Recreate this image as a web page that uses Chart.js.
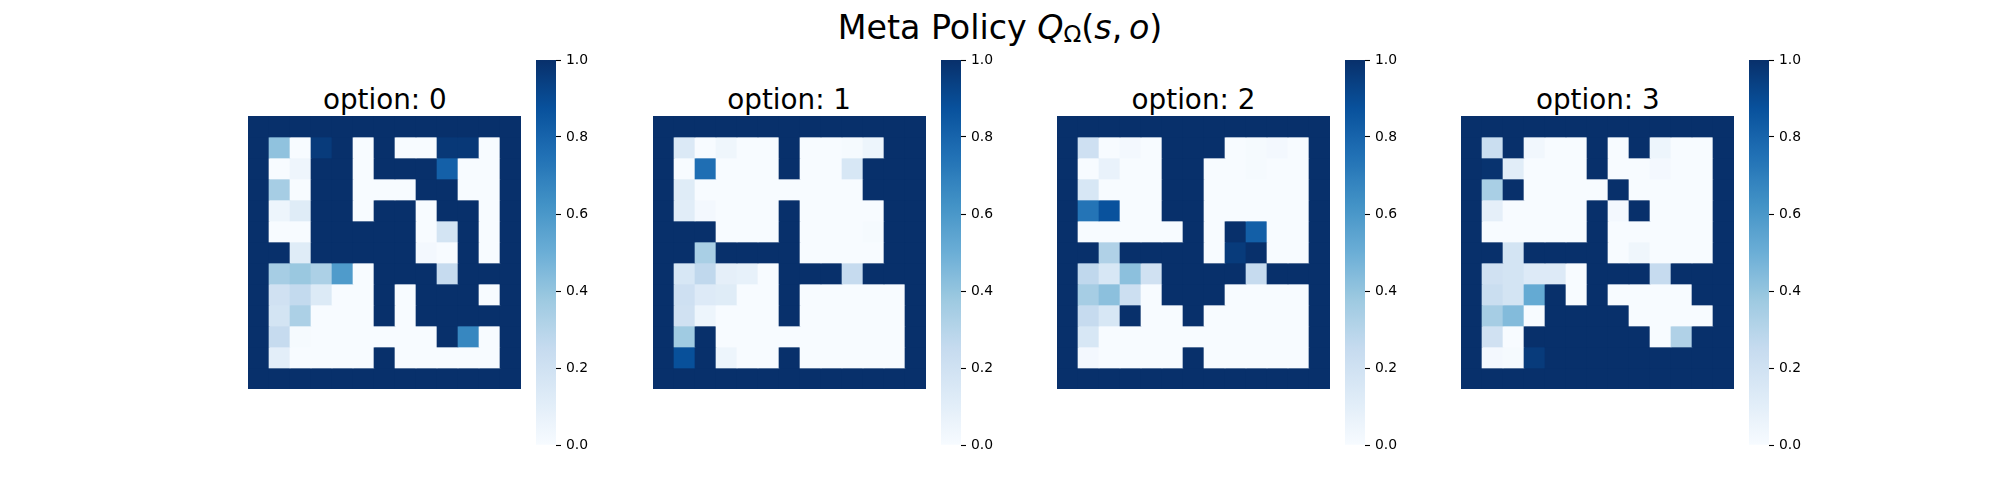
<!DOCTYPE html>
<html>
<head>
<meta charset="utf-8">
<script src="https://cdn.jsdelivr.net/npm/chart.js@4.4.0/dist/chart.umd.min.js"></script>
<style>
  html, body { margin: 0; padding: 0; background: #ffffff; width: 2000px; height: 500px; overflow: hidden; }
  canvas { position: absolute; display: block; }
  .ttl { position: absolute; font-family: "DejaVu Sans"; font-size: 27.8px; line-height: 1; white-space: nowrap; transform: translateX(-50%); color: #000; }
  #sup { position: absolute; left: 1000px; top: 11px; transform: translateX(-50%); font-family: "DejaVu Sans"; font-size: 33.3px; line-height: 1; white-space: nowrap; color: #000; }
  #sup .m { font-style: oblique; }
  #sup .sub { font-size: 70%; position: relative; top: 0.12em; }
</style>
</head>
<body>
<div id="sup">Meta Policy <span class="m">Q</span><span class="sub">Ω</span>(<span class="m">s</span>,&thinsp;<span class="m">o</span>)</div>
<div id="root"></div>
<script>
// ---------------- data ----------------
const colLabels = ['0','1','2','3','4','5','6','7','8','9','10','11','12'];
const optionTitles = ['option: 0', 'option: 1', 'option: 2', 'option: 3'];
const colorbarTicks = [0.0, 0.2, 0.4, 0.6, 0.8, 1.0];

const option0 = [
  [1,1,1,1,1,1,1,1,1,1,1,1,1],
  [1,0.41,0,0.96,1,0,1,0,0,0.97,0.97,0,1],
  [1,0,0.045,1,1,0,1,1,1,0.815,0,0,1],
  [1,0.35,0,1,1,0,0,0,1,1,0,0,1],
  [1,0.05,0.12,1,1,0,1,1,0,1,1,0,1],
  [1,0,0,1,1,1,1,1,0,0.18,1,0,1],
  [1,1,0.12,1,1,1,1,1,0.02,0,1,0,1],
  [1,0.35,0.385,0.33,0.585,0,1,1,1,0.25,1,1,1],
  [1,0.2,0.26,0.135,0,0,1,0,1,1,1,0,1],
  [1,0.18,0.33,0,0,0,1,0,1,1,1,1,1],
  [1,0.25,0.01,0,0,0,0,0,0,1,0.667,0,1],
  [1,0.1,0,0,0,0,1,0,0,0,0,0,1],
  [1,1,1,1,1,1,1,1,1,1,1,1,1]
];
const option1 = [
  [1,1,1,1,1,1,1,1,1,1,1,1,1],
  [1,0.14,0,0.04,0,0,1,0,0,0.01,0.05,1,1],
  [1,0,0.76,0,0,0,1,0,0,0.16,1,1,1],
  [1,0.12,0,0,0,0,0,0,0,0,1,1,1],
  [1,0.11,0.02,0,0,0,1,0,0,0,0,1,1],
  [1,1,1,0,0,0,1,0,0,0,0.01,1,1],
  [1,1,0.34,1,1,1,1,0,0,0,0,1,1],
  [1,0.16,0.27,0.09,0.08,0,1,1,1,0.25,1,1,1],
  [1,0.21,0.13,0.12,0,0,1,0,0,0,0,0,1],
  [1,0.2,0.05,0,0,0,1,0,0,0,0,0,1],
  [1,0.37,1,0,0,0,0,0,0,0,0,0,1],
  [1,0.88,1,0.05,0,0,1,0,0,0,0,0,1],
  [1,1,1,1,1,1,1,1,1,1,1,1,1]
];
const option2 = [
  [1,1,1,1,1,1,1,1,1,1,1,1,1],
  [1,0.21,0,0.02,0,1,1,1,0,0.01,0.02,0,1],
  [1,0,0.07,0,0,1,1,0,0,0.01,0,0,1],
  [1,0.16,0,0,0,1,1,0,0,0,0,0,1],
  [1,0.74,0.87,0,0,1,1,0,0,0,0,0,1],
  [1,0,0,0,0,0,1,0,1,0.82,0,0,1],
  [1,1,0.32,1,1,1,1,0,0.96,1,0,0,1],
  [1,0.27,0.16,0.42,0.2,1,1,1,1,0.25,1,1,1],
  [1,0.35,0.42,0.22,0,1,1,1,0,0,0,0,1],
  [1,0.25,0.16,1,0,0,1,0,0,0,0,0,1],
  [1,0.16,0,0,0,0,0,0,0,0,0,0,1],
  [1,0.02,0,0,0,0,1,0,0,0,0,0,1],
  [1,1,1,1,1,1,1,1,1,1,1,1,1]
];
const option3 = [
  [1,1,1,1,1,1,1,1,1,1,1,1,1],
  [1,0.23,1,0.03,0,0,1,0,1,0.05,0,0,1],
  [1,0.99,0.11,0,0,0,1,0,0,0.02,0,0,1],
  [1,0.34,1,0,0,0,0,1,0,0,0,0,1],
  [1,0.09,0,0,0,0,1,0.02,1,0,0,0,1],
  [1,0,0,0,0,0,1,0,0,0,0,0,1],
  [1,1,0.18,1,1,1,1,0,0.04,0,0,0,1],
  [1,0.2,0.18,0.13,0.13,0,1,1,1,0.25,1,1,1],
  [1,0.23,0.18,0.52,1,0,1,0,0,0,0,1,1],
  [1,0.35,0.44,0,1,1,1,1,0,0,0,0,1],
  [1,0.2,0,1,1,1,1,1,1,0,0.32,1,1],
  [1,0.02,0.01,0.96,1,1,1,1,1,1,1,1,1],
  [1,1,1,1,1,1,1,1,1,1,1,1,1]
];
const options = [option0, option1, option2, option3];

// ---------------- style ----------------
const BLUES = [
  [247,251,255],[222,235,247],[198,219,239],[158,202,225],[107,174,214],
  [66,146,198],[33,113,181],[8,81,156],[8,48,107]
];
function blues(v) {
  v = Math.max(0, Math.min(1, v));
  const t = v * (BLUES.length - 1);
  const i = Math.min(Math.floor(t), BLUES.length - 2);
  const f = t - i;
  const a = BLUES[i], b = BLUES[i + 1];
  const c = a.map((x, k) => Math.round(x + (b[k] - x) * f));
  return `rgb(${c[0]},${c[1]},${c[2]})`;
}

const CELL = 21;
const GRID = CELL * 13;
const STEP = 404.35;
const gridCenterX0 = 384.8;
const gridTop = 116;
const cbLeft0 = 536.4;
const root = document.getElementById('root');

function makeCanvas(left, top, w, h) {
  const c = document.createElement('canvas');
  c.width = w; c.height = h;
  c.style.left = left + 'px'; c.style.top = top + 'px';
  c.style.width = w + 'px'; c.style.height = h + 'px';
  root.appendChild(c);
  return c;
}

options.forEach((grid, k) => {
  const cx = gridCenterX0 + k * STEP;
  const left = Math.round(cx - GRID / 2);

  // title
  const t = document.createElement('div');
  t.className = 'ttl';
  t.style.left = cx + 'px';
  t.style.top = '86px';
  t.textContent = optionTitles[k];
  document.body.appendChild(t);

  // heatmap
  const hc = makeCanvas(left, gridTop, GRID, GRID);
  const datasets = grid.map((row, r) => ({
    label: 'row ' + r,
    data: row.map(() => [r, r + 1]),
    backgroundColor: row.map(v => blues(v)),
    grouped: false,
    barPercentage: 1,
    categoryPercentage: 1,
    borderWidth: 0,
    borderSkipped: false
  }));
  new Chart(hc, {
    type: 'bar',
    data: { labels: colLabels, datasets },
    options: {
      responsive: false, animation: false, devicePixelRatio: 1, events: [],
      layout: { padding: 0 },
      plugins: { legend: { display: false }, tooltip: { enabled: false }, title: { display: false } },
      scales: {
        x: { type: 'category', display: false, offset: true },
        y: { type: 'linear', display: false, min: 0, max: 13, reverse: true }
      }
    }
  });

  // colorbar
  const cbl = Math.round(cbLeft0 + k * STEP);
  const cc = makeCanvas(cbl, 40, 70, 425);
  new Chart(cc, {
    type: 'bar',
    data: {
      labels: ['Q'],
      datasets: [{
        data: [[0, 1]],
        backgroundColor: (ctx) => {
          const ch = ctx.chart; const area = ch.chartArea;
          if (!area) return blues(1);
          const g = ch.ctx.createLinearGradient(0, area.bottom, 0, area.top);
          for (let i = 0; i <= 32; i++) g.addColorStop(i / 32, blues(i / 32));
          return g;
        },
        barPercentage: 1, categoryPercentage: 1, borderWidth: 0, borderSkipped: false
      }]
    },
    options: {
      responsive: false, animation: false, devicePixelRatio: 1, events: [],
      layout: { padding: { top: 20, bottom: 20, left: 0, right: 0 } },
      plugins: { legend: { display: false }, tooltip: { enabled: false } },
      scales: {
        x: { type: 'category', display: false, offset: true },
        y: {
          type: 'linear', position: 'right', min: 0, max: 1,
          afterBuildTicks: (s) => { s.ticks = colorbarTicks.map(v => ({ value: v })); },
          afterFit: (s) => { s.width = 50; },
          ticks: {
            callback: (v) => Number(v).toFixed(1),
            color: '#000',
            font: { family: 'DejaVu Sans', size: 13.9 },
            padding: 5
          },
          grid: { drawOnChartArea: false, drawTicks: true, tickLength: 5, tickColor: '#000', tickWidth: 1.1 },
          border: { display: false }
        }
      }
    }
  });
});
</script>
</body>
</html>
